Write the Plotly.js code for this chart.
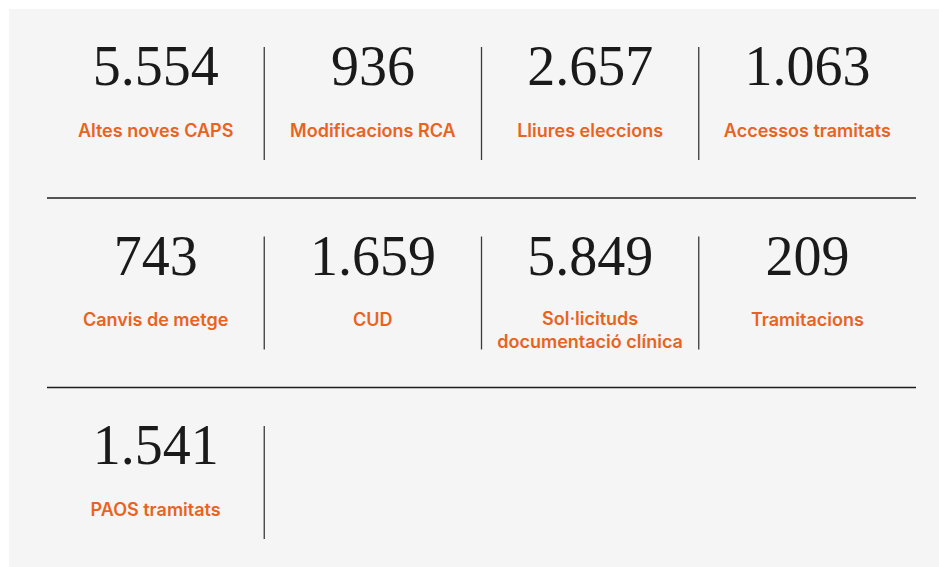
<!DOCTYPE html>
<html>
<head>
<meta charset="utf-8">
<script src="https://cdn.plot.ly/plotly-3.0.1.min.js"></script>
<style>html,body{margin:0;padding:0;background:#fff;}#chart{width:939px;height:567px;}</style>
</head>
<body>
<div id="chart"></div>
<script>
// Data
const values = ["5.554", "936", "2.657", "1.063", "743", "1.659", "5.849", "209", "1.541"];
const labels = ["Altes noves CAPS", "Modificacions RCA", "Lliures eleccions", "Accessos tramitats",
                "Canvis de metge", "CUD", "Sol·licituds<br>documentació clínica", "Tramitacions",
                "PAOS tramitats"];

// Layout geometry (pixels)
const colX0 = 47, colW = 217.25, nCols = 4;
const rowY0 = 0, rowH = 189.5;
const numY = 71, labY = 132, lineH = 21;

const xs = [], ys = [], lx = [], ly = [];
values.forEach((v, i) => {
  const c = i % nCols, r = Math.floor(i / nCols);
  const cx = colX0 + colW * (c + 0.5);
  xs.push(cx); ys.push(rowY0 + r * rowH + numY);
  const nLines = labels[i].split("<br>").length;
  lx.push(cx); ly.push(rowY0 + r * rowH + labY + (nLines - 1) * lineH / 2);
});

const shapes = [{type: "rect", xref: "x", yref: "y", x0: 9, x1: 939, y0: 9, y1: 567,
                 fillcolor: "#f5f5f5", line: {width: 0}, layer: "below"}];
const nRows = Math.ceil(values.length / nCols);
for (let r = 0; r < nRows; r++) {
  const inRow = Math.min(nCols, values.length - r * nCols);
  const nV = inRow === nCols ? nCols - 1 : inRow;
  for (let k = 1; k <= nV; k++) {
    const x = colX0 + colW * k;
    shapes.push({type: "line", xref: "x", yref: "y", x0: x, x1: x,
                 y0: r * rowH + 47, y1: r * rowH + 160, line: {color: "#3a3a3a", width: 1.3}});
  }
  if (r < nRows - 1) {
    const y = r * rowH + 198;
    shapes.push({type: "line", xref: "x", yref: "y", x0: 47, x1: 916, y0: y, y1: y,
                 line: {color: "#1e1e1e", width: 1.5}});
  }
}

const traces = [
  {type: "scatter", mode: "text", x: xs, y: ys, text: values, textposition: "middle center",
   textfont: {family: "Liberation Serif, serif", size: 56, color: "#1a1a1a"}, hoverinfo: "skip", showlegend: false, cliponaxis: false},
  {type: "scatter", mode: "text", x: lx, y: ly, text: labels, textposition: "middle center",
   textfont: {family: "Inter, sans-serif", size: 18, color: "#e9631f", weight: 600}, hoverinfo: "skip", showlegend: false, cliponaxis: false}
];

const layout = {
  width: 939, height: 567, margin: {l: 0, r: 0, t: 0, b: 0},
  paper_bgcolor: "#ffffff", plot_bgcolor: "rgba(0,0,0,0)",
  xaxis: {range: [0, 939], visible: false, fixedrange: true},
  yaxis: {range: [567, 0], visible: false, fixedrange: true},
  shapes: shapes, showlegend: false
};
Plotly.newPlot("chart", traces, layout, {displayModeBar: false, staticPlot: true});
</script>
</body>
</html>
